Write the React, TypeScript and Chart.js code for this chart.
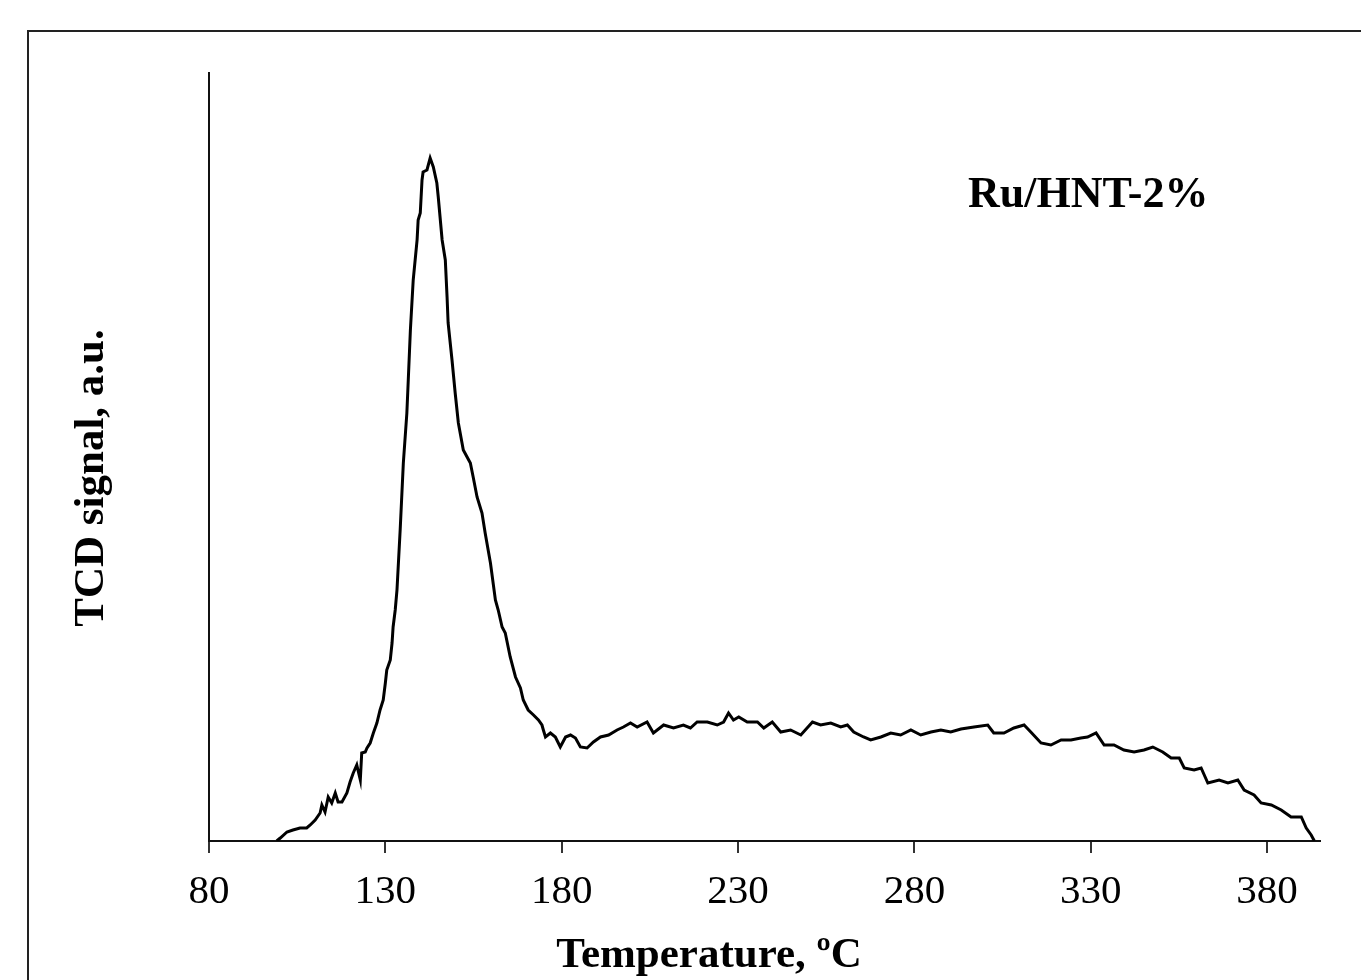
import React, { useEffect, useRef } from "react";
import { Chart, registerables } from "chart.js";

Chart.register(...registerables);

// Temperature (°C)
const TEMPERATURE: number[] = [
  99.2, 100.2, 102.1, 103.8, 105.8, 107.7, 108.7, 110.1, 111.5, 112.0, 112.9, 113.8, 114.8, 115.8,
  116.6, 117.7, 119.1, 120.0, 120.9, 121.9, 122.9, 123.3, 124.3, 124.8, 125.7, 126.6, 127.6, 128.5,
  129.4, 130.0, 130.4, 131.4, 131.9, 132.2, 132.8, 133.3, 134.2, 135.1, 136.1, 136.5, 137.1, 137.9,
  139.0, 139.3, 139.9, 140.4, 140.7, 141.8, 142.7, 143.6, 144.6, 145.0, 146.1, 147.0, 147.5, 147.8,
  148.9, 149.8, 150.7, 152.1, 154.1, 154.9, 156.0, 157.4, 158.3, 159.8, 161.2, 162.0, 163.1, 164.0,
  165.4, 166.9, 168.3, 169.1, 170.5, 172.0, 173.4, 174.4, 174.8, 175.4, 176.8, 178.2, 179.6, 181.1,
  182.5, 183.9, 185.3, 187.2, 189.0, 191.0, 193.3, 195.7, 197.5, 199.5, 201.4, 204.2, 206.0, 208.9,
  211.7, 214.5, 216.5, 218.4, 221.3, 224.1, 225.9, 227.3, 228.7, 230.2, 232.6, 235.5, 237.3, 239.7,
  242.1, 244.9, 247.8, 251.1, 253.4, 256.3, 259.1, 261.0, 262.8, 265.6, 267.6, 270.5, 273.3, 276.1,
  279.0, 281.8, 284.7, 287.5, 290.3, 293.2, 296.9, 300.8, 302.5, 305.4, 308.2, 311.1, 313.0, 315.9,
  318.7, 321.6, 324.4, 327.2, 329.1, 331.5, 333.8, 336.6, 339.4, 342.3, 345.1, 347.6, 350.4, 352.8,
  355.1, 356.5, 359.3, 361.3, 363.2, 366.4, 368.9, 371.7, 373.5, 376.3, 378.3, 381.2, 384.0, 386.8,
  389.7, 391.1, 392.5, 393.4,
];

// TCD signal (a.u.)
const TCD_SIGNAL: number[] = [
  0, 3, 9, 11, 13, 13, 16, 21, 28, 36, 29, 44, 38, 48,
  39, 39, 48, 59, 68, 76, 61, 88, 89, 93, 98, 108, 118, 131,
  141, 158, 171, 181, 198, 214, 231, 251, 311, 378, 428, 461, 511, 561,
  601, 621, 628, 661, 669, 671, 683, 674, 658, 644, 601, 581, 544, 518,
  481, 448, 418, 391, 378, 364, 344, 328, 308, 278, 241, 231, 214, 208,
  184, 164, 153, 141, 131, 126, 121, 116, 111, 104, 108, 104, 94, 104,
  106, 103, 94, 93, 99, 104, 106, 111, 114, 118, 114, 119, 108, 116,
  113, 116, 113, 119, 119, 116, 119, 128, 121, 124, 119, 119, 113, 119,
  109, 111, 106, 119, 116, 118, 114, 116, 109, 104, 101, 104, 108, 106,
  111, 106, 109, 111, 109, 112, 114, 116, 108, 108, 113, 116, 109, 98,
  96, 101, 101, 103, 104, 108, 96, 96, 91, 89, 91, 94, 89, 83,
  83, 73, 71, 73, 58, 61, 58, 61, 51, 46, 38, 36, 31, 24,
  24, 13, 6, 0,
];

const X_TICKS: number[] = [80, 130, 180, 230, 280, 330, 380];
const X_MIN = 80;
const X_MAX = 395;
const Y_MIN = 0;
const Y_MAX = 768;

const X_TITLE = "Temperature, \u00BAC";
const Y_TITLE = "TCD signal, a.u.";
const SAMPLE_LABEL = "Ru/HNT-2%";

const SERIF = "'Liberation Serif', 'Times New Roman', serif";

const textPlugin = {
  id: "textAndFrame",
  afterDraw(chart: any) {
    const ctx = chart.ctx as CanvasRenderingContext2D;
    ctx.save();
    // outer frame (extends beyond the canvas on right and bottom)
    ctx.strokeStyle = "#222";
    ctx.lineWidth = 2;
    ctx.beginPath();
    ctx.moveTo(28, 1000);
    ctx.lineTo(28, 31);
    ctx.lineTo(1400, 31);
    ctx.stroke();

    ctx.fillStyle = "#000";
    ctx.font = "bold 43px " + SERIF;
    ctx.textBaseline = "alphabetic";
    ctx.textAlign = "center";
    ctx.fillText(X_TITLE, 709, 967);

    ctx.save();
    ctx.translate(103, 478);
    ctx.rotate(-Math.PI / 2);
    ctx.textAlign = "center";
    ctx.fillText(Y_TITLE, 0, 0);
    ctx.restore();

    ctx.font = "bold 44px " + SERIF;
    ctx.textAlign = "left";
    ctx.fillText(SAMPLE_LABEL, 968, 207);
    ctx.restore();
  },
};

export default function App() {
  const canvasRef = useRef<HTMLCanvasElement | null>(null);

  useEffect(() => {
    const canvas = canvasRef.current;
    if (!canvas) return;
    const data = TEMPERATURE.map((t, i) => ({ x: t, y: TCD_SIGNAL[i] }));
    const chart = new Chart(canvas, {
      type: "line",
      data: {
        datasets: [
          {
            data,
            borderColor: "#000",
            borderWidth: 3,
            pointRadius: 0,
            tension: 0,
            fill: false,
          },
        ],
      },
      options: {
        animation: false,
        responsive: false,
        maintainAspectRatio: false,
        layout: { padding: { top: 73, right: 41, left: 0, bottom: 0 } },
        plugins: {
          legend: { display: false },
          tooltip: { enabled: false },
          title: { display: false },
        },
        scales: {
          x: {
            type: "linear",
            min: X_MIN,
            max: X_MAX,
            afterBuildTicks: (scale: any) => {
              scale.ticks = X_TICKS.map((v) => ({ value: v }));
            },
            afterFit: (scale: any) => {
              scale.height = 139;
            },
            grid: {
              display: true,
              drawOnChartArea: false,
              drawTicks: true,
              tickLength: 12,
              tickColor: "#333",
              tickWidth: 2,
              color: "#333",
              lineWidth: 2,
            },
            border: { display: true, color: "#111", width: 2 },
            ticks: {
              autoSkip: false,
              maxRotation: 0,
              padding: 15,
              color: "#000",
              font: { family: SERIF, size: 41 },
              callback: (v: any) => String(v),
            },
          },
          y: {
            type: "linear",
            min: Y_MIN,
            max: Y_MAX,
            afterFit: (scale: any) => {
              scale.width = 209;
            },
            grid: { display: false, drawTicks: false },
            border: { display: true, color: "#111", width: 2 },
            ticks: { display: false },
          },
        },
      },
      plugins: [textPlugin],
    });
    return () => chart.destroy();
  }, []);

  return (
    <div style={{ position: "fixed", left: 0, top: 0, width: 1361, height: 980, background: "#fff" }}>
      <canvas ref={canvasRef} width={1361} height={980} style={{ display: "block" }} />
    </div>
  );
}
